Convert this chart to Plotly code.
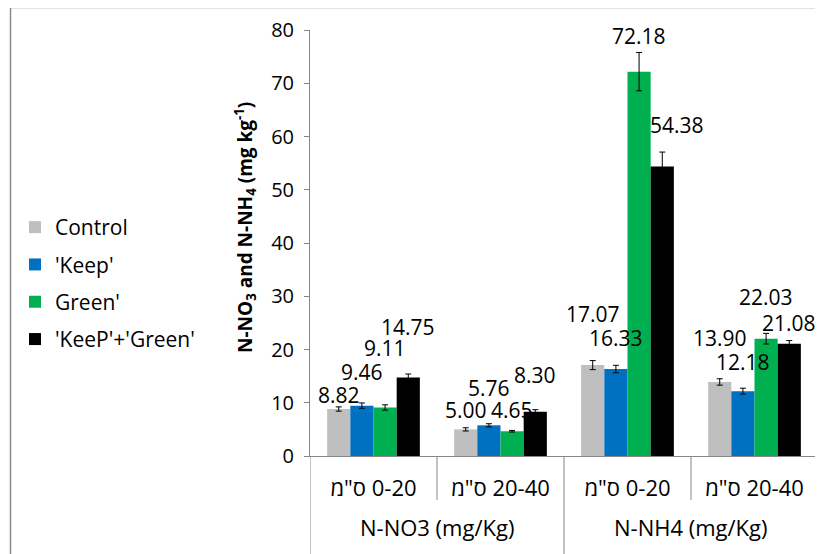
import plotly.graph_objects as go

group_labels = ["N-NO3 (mg/Kg)", "N-NH4 (mg/Kg)"]
depth_labels = ["ס\"מ\u200e 0-20", "ס\"מ\u200e 20-40", "ס\"מ\u200e 0-20", "ס\"מ\u200e 20-40"]
depth_group = [0, 0, 1, 1]

series_names = ["Control", "'Keep'", "Green'", "'KeeP'+'Green'"]
series_colors = ["#BFBFBF", "#0070C0", "#00B050", "#000000"]

control = [8.82, 5.00, 17.07, 13.90]
keep = [9.46, 5.76, 16.33, 12.18]
green = [9.11, 4.65, 72.18, 22.03]
keep_green = [14.75, 8.30, 54.38, 21.08]
values = [control, keep, green, keep_green]

control_err = [0.4, 0.3, 0.85, 0.6]
keep_err = [0.5, 0.3, 0.7, 0.55]
green_err = [0.5, 0.15, 3.6, 1.0]
keep_green_err = [0.65, 0.4, 2.7, 0.6]
errors = [control_err, keep_err, green_err, keep_green_err]

# label anchor heights (data units) as placed in the original chart
control_lbl = [11.4, 8.6, 26.6, 22.1]
keep_lbl = [15.8, 12.7, 22.1, 17.6]
green_lbl = [20.3, 8.6, 78.8, 29.8]
keep_green_lbl = [24.2, 15.2, 62.1, 25.0]
label_y = [control_lbl, keep_lbl, green_lbl, keep_green_lbl]
label_dx = [[0, 0, 0, 0], [0, 0, 0, 0], [0, 0, 0, 0], [0, 0, 15, 0]]

FONT = "Open Sans, Noto Sans, DejaVu Sans, sans-serif"
AXIS_GRAY = "#868686"
BARGAP = 0.27

# figure geometry (page body has an 8px margin)
W, H = 815, 546
ML, MR, MT, MB = 302, 5, 22, 98
PW, PH = W - ML - MR, H - MT - MB


def px_to_paper_x(px):
    return (px - ML) / PW


def px_to_paper_y(py):
    return (H - MB - py) / PH


idx = list(range(len(depth_labels)))

fig = go.Figure()
for k in range(len(series_names)):
    fig.add_trace(go.Bar(
        x=idx, y=values[k], name=series_names[k],
        marker=dict(color=series_colors[k], line=dict(width=0)),
        legendgroup=str(k),
        error_y=dict(type="data", array=errors[k], color="#000000",
                     thickness=1, width=3),
    ))

n = len(series_names)
w = (1 - BARGAP) / n
annotations = []
for k in range(n):
    for i in idx:
        annotations.append(dict(
            x=i + (k - (n - 1) / 2) * w, y=label_y[k][i], xref="x", yref="y",
            text=f"{values[k][i]:.2f}", showarrow=False,
            xshift=label_dx[k][i],
            font=dict(family=FONT, size=21, color="#000000"),
        ))

# group (second-level) labels
for g, name in enumerate(group_labels):
    members = [i for i in idx if depth_group[i] == g]
    annotations.append(dict(
        x=sum(members) / len(members), y=px_to_paper_y(527 - 8), xref="x", yref="paper",
        text=name, showarrow=False, yanchor="middle",
        font=dict(family=FONT, size=22, color="#000000"),
    ))

# y-axis title
annotations.append(dict(
    x=px_to_paper_x(245 - 8), y=px_to_paper_y(228 - 8), xref="paper", yref="paper",
    text="<b>N-NO<sub>3</sub> and N-NH<sub>4</sub> (mg kg<sup>-1</sup>)</b>",
    textangle=-90, showarrow=False, xanchor="center", yanchor="middle",
    font=dict(family=FONT, size=19, color="#000000"),
))

shapes = []
bottom = px_to_paper_y(H + 5)
short = px_to_paper_y(500 - 8)
for i in idx + [idx[-1] + 1]:
    b = i - 0.5
    is_group_edge = (i == 0 or i == len(idx) or depth_group[i] != depth_group[i - 1])
    shapes.append(dict(type="line", xref="x", yref="paper", x0=b, x1=b,
                       y0=0, y1=bottom if is_group_edge else short,
                       line=dict(color=AXIS_GRAY, width=1)))
# outer chart frame
shapes.append(dict(type="rect", xref="paper", yref="paper",
                   x0=px_to_paper_x(10.5 - 8), x1=1.2, y0=-0.6, y1=px_to_paper_y(7.5 - 8),
                   line=dict(color="#8C8C8C", width=1.5), fillcolor="rgba(0,0,0,0)",
                   layer="below"))

fig.update_layout(
    width=W, height=H,
    margin=dict(l=ML, r=MR, t=MT, b=MB),
    paper_bgcolor="white", plot_bgcolor="white",
    barmode="group", bargap=BARGAP, bargroupgap=0,
    font=dict(family=FONT, size=20, color="#000000"),
    showlegend=True,
    legend=dict(x=px_to_paper_x(15 - 8), y=px_to_paper_y(207 - 8),
                xanchor="left", yanchor="top",
                font=dict(family=FONT, size=21, color="#000000"),
                tracegroupgap=7, bgcolor="rgba(0,0,0,0)"),
    annotations=annotations,
    shapes=shapes,
    xaxis=dict(range=[-0.5, len(idx) - 0.5], tickvals=idx, ticktext=depth_labels,
               showline=True, linecolor=AXIS_GRAY, linewidth=1, ticks="",
               showgrid=False, zeroline=False, ticklabelstandoff=13,
               tickfont=dict(family=FONT, size=22, color="#000000")),
    yaxis=dict(range=[0, 80], dtick=10, showline=True, linecolor=AXIS_GRAY,
               linewidth=1, ticks="outside", ticklen=5, tickcolor=AXIS_GRAY,
               showgrid=False, zeroline=False, ticklabelstandoff=6,
               tickfont=dict(family=FONT, size=20, color="#000000")),
)

fig.write_html("out.html")
